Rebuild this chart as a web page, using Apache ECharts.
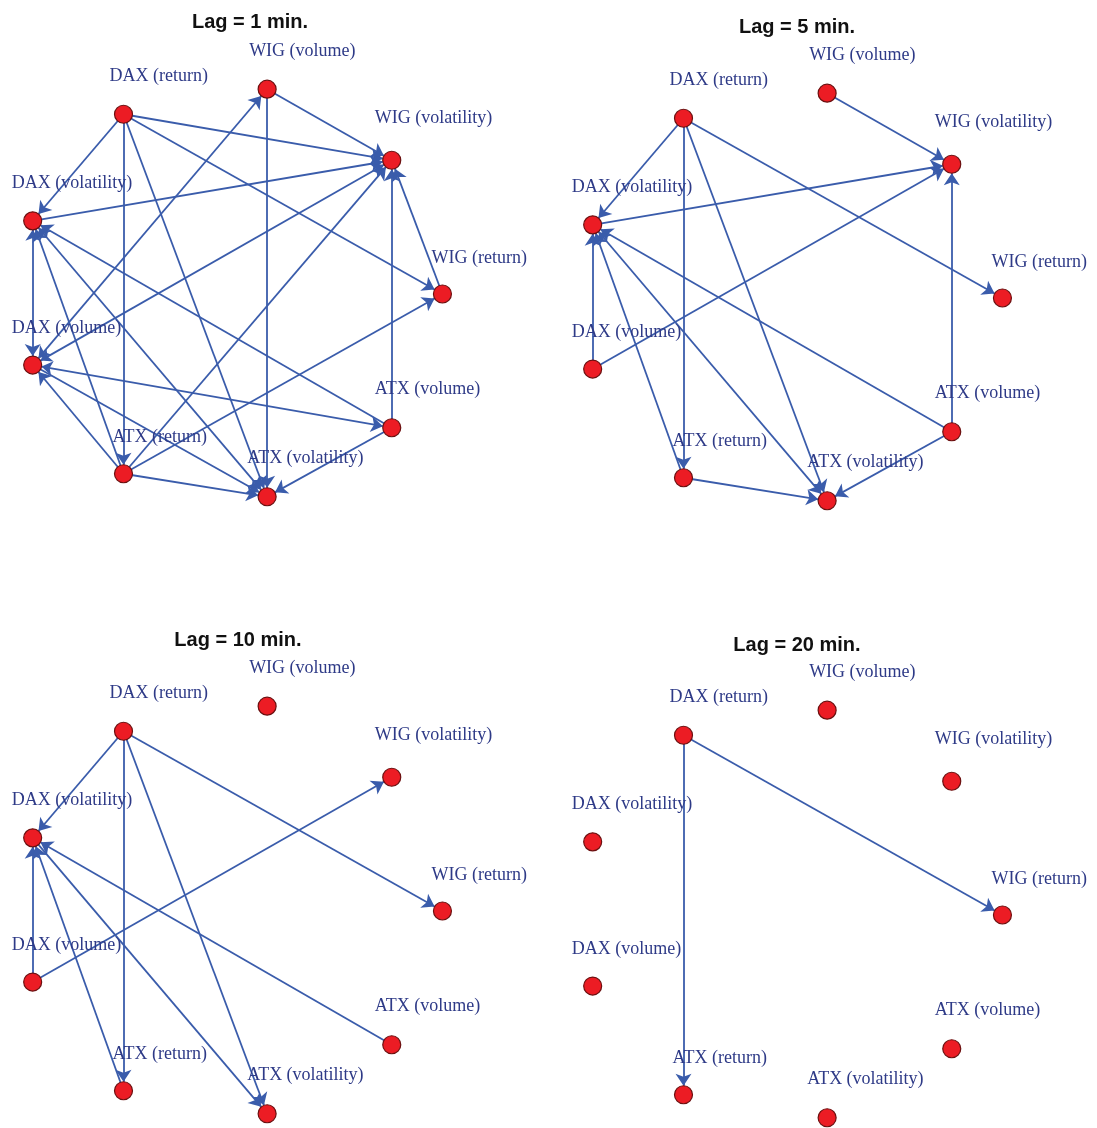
<!DOCTYPE html>
<html>
<head>
<meta charset="utf-8">
<script src="https://cdn.jsdelivr.net/npm/echarts@6/dist/echarts.min.js"></script>
<style>
html,body{margin:0;padding:0;background:#fff;}
#chart{width:1097px;height:1128px;}
</style>
</head>
<body>
<div id="chart"></div>
<script>
// ---- data ----
var nodeKeys  = ['DR', 'WVo', 'WVl', 'WR', 'AVo', 'AVl', 'AR', 'DVo', 'DVl'];
var nodeNames = ['DAX (return)', 'WIG (volume)', 'WIG (volatility)', 'WIG (return)',
                 'ATX (volume)', 'ATX (volatility)', 'ATX (return)', 'DAX (volume)', 'DAX (volatility)'];
var nodeX = [-0.51, 0.17, 0.76, 1.00, 0.76, 0.17, -0.51, -0.94, -0.94];
var nodeY = [0.86, 0.98, 0.64, 0.00, -0.64, -0.97, -0.86, -0.34, 0.35];

var panelTitles = ['Lag = 1 min.', 'Lag = 5 min.', 'Lag = 10 min.', 'Lag = 20 min.'];

// one-directional edges [source, target]
var lag1Edges = [['DR','DVl'],['DR','AR'],['DR','AVl'],['DR','WVl'],['DR','WR'],
                 ['WVo','WVl'],['WVo','AVl'],['DVl','WVl'],['AR','WVl'],['AR','WR'],
                 ['AVo','WVl'],['WR','WVl'],['AVo','DVl'],['AVo','AVl'],['AR','AVl'],
                 ['DVo','AVl'],['AR','DVl'],['AR','DVo']];
var lag1Both  = [['DVo','WVo'],['DVo','WVl'],['DVl','DVo'],['DVo','AVo'],['DVl','AVl']];

var lag5Edges = [['DR','DVl'],['DR','AR'],['DR','AVl'],['DR','WR'],['WVo','WVl'],
                 ['DVl','WVl'],['DVo','WVl'],['AVo','WVl'],['DVo','DVl'],['AR','DVl'],
                 ['AVo','DVl'],['AR','AVl'],['AVo','AVl']];
var lag5Both  = [['DVl','AVl']];

var lag10Edges = [['DR','DVl'],['DR','AR'],['DR','AVl'],['DR','WR'],['DVo','DVl'],
                  ['DVo','WVl'],['AR','DVl'],['DVl','AVl'],['AVo','DVl']];
var lag10Both  = [];

var lag20Edges = [['DR','AR'],['DR','WR']];
var lag20Both  = [];

var panelEdges = [lag1Edges, lag5Edges, lag10Edges, lag20Edges];
var panelBoth  = [lag1Both, lag5Both, lag10Both, lag20Both];

// ---- layout / style ----
var labelDx = [-14, -18, -17, -11, -17, -20, -11, -21, -21];
var labelDy = [-38, -38, -42, -36, -38, -38, -36, -37, -38];

var gridBoxes = [
  {left: 20,  top: 85,  width: 433, height: 418},
  {left: 580, top: 89,  width: 433, height: 418},
  {left: 20,  top: 702, width: 433, height: 418},
  {left: 580, top: 706, width: 433, height: 418}
];
var titlePos = [[250, 22], [797, 27], [238, 640], [797, 645]];

var lineColor = '#3a5cab';

var chart = echarts.init(document.getElementById('chart'), null, {renderer: 'canvas'});

var grids = [], xAxes = [], yAxes = [], series = [], graphics = [];
for (var p = 0; p < 4; p++) {
  var g = gridBoxes[p];
  grids.push({left: g.left, top: g.top, width: g.width, height: g.height,
              outerBoundsMode: 'none', containLabel: false});
  xAxes.push({type: 'value', gridIndex: p, min: -1.0, max: 1.05, show: false});
  yAxes.push({type: 'value', gridIndex: p, min: -1.0, max: 1.0, show: false});

  var nodes = nodeKeys.map(function (k, i) {
    return {
      id: k, name: nodeNames[i], value: [nodeX[i], nodeY[i]],
      label: {offset: [labelDx[i], labelDy[i]]}
    };
  });
  var links = [];
  panelEdges[p].forEach(function (e) {
    links.push({source: e[0], target: e[1], symbol: ['none', 'arrow']});
  });
  panelBoth[p].forEach(function (e) {
    links.push({source: e[0], target: e[1], symbol: ['arrow', 'arrow']});
  });

  series.push({
    type: 'graph',
    coordinateSystem: 'cartesian2d',
    xAxisIndex: p,
    yAxisIndex: p,
    silent: true,
    animation: false,
    symbol: 'circle',
    symbolSize: 18,
    itemStyle: {color: '#ec1c24', borderColor: '#6b1010', borderWidth: 1.2},
    edgeSymbol: ['none', 'arrow'],
    edgeSymbolSize: [11, 12],
    lineStyle: {color: lineColor, width: 1.8, opacity: 1, curveness: 0},
    label: {
      show: true,
      formatter: '{b}',
      position: 'inside',
      align: 'left',
      verticalAlign: 'middle',
      fontFamily: 'Liberation Serif',
      fontSize: 18,
      color: '#2e3a87'
    },
    data: nodes,
    links: links
  });

  graphics.push({
    type: 'text',
    x: titlePos[p][0],
    y: titlePos[p][1],
    style: {
      text: panelTitles[p],
      fontFamily: 'Liberation Sans',
      fontWeight: 'bold',
      fontSize: 20,
      fill: '#111',
      align: 'center',
      verticalAlign: 'middle'
    }
  });
}

chart.setOption({
  backgroundColor: '#ffffff',
  animation: false,
  grid: grids,
  xAxis: xAxes,
  yAxis: yAxes,
  series: series,
  graphic: graphics
});
</script>
</body>
</html>
